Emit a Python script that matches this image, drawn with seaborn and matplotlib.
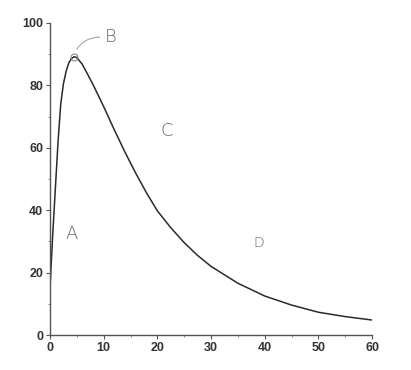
import matplotlib
matplotlib.use("Agg")
import matplotlib.pyplot as plt
import seaborn as sns
import pandas as pd
from matplotlib.ticker import MultipleLocator

# data
time = [0, 0.5, 1, 1.5, 2, 2.5, 3, 3.5, 4, 4.5, 5, 6, 7, 8, 9, 10, 12, 14, 16, 18,
        20, 22.5, 25, 27.5, 30, 35, 40, 45, 50, 55, 60]
value = [15, 32, 47, 62, 74, 80.5, 84.5, 87.2, 88.6, 89.2, 88.9, 86.8, 83.6, 80.3, 76.8,
         73.2, 65.7, 58.5, 51.8, 45.5, 39.8, 34.4, 29.6, 25.5, 22, 16.6, 12.5, 9.6, 7.3, 5.9, 4.8]
x_ticks = [0, 10, 20, 30, 40, 50, 60]
y_ticks = [0, 20, 40, 60, 80, 100]
labels = ["A", "B", "C", "D"]
label_x = [4.1, 11.3, 21.8, 38.9]
label_y = [32.5, 95.5, 65.5, 29.5]
peak_x, peak_y = 4.5, 89.2

sns.set_theme(style="white")
plt.rcParams['font.family'] = ['Liberation Sans', 'DejaVu Sans']

df = pd.DataFrame({"t": time, "v": value})
fig = plt.figure(figsize=(4.11, 3.70), dpi=100)
ax = fig.add_axes([50/411, 1-335/370, (372-50)/411, (335-23)/370])
sns.lineplot(data=df, x="t", y="v", ax=ax, color="#2a2a2a", linewidth=1.1)

ax.set_xlim(0, 60)
ax.set_ylim(0, 100)
ax.set_xticks(x_ticks)
ax.set_yticks(y_ticks)
ax.xaxis.set_minor_locator(MultipleLocator(5))
ax.yaxis.set_minor_locator(MultipleLocator(10))
ax.tick_params(axis="both", which="major", direction="out", length=3, width=0.8,
               color="#555555", labelsize=9, labelcolor="#333333", pad=2,
               bottom=True, left=True)
ax.tick_params(axis="both", which="minor", direction="out", length=1.5, width=0.6,
               color="#777777", bottom=True, left=True)
for lab in ax.get_xticklabels() + ax.get_yticklabels():
    lab.set_fontweight("bold")
ax.set_xlabel("")
ax.set_ylabel("")
for s in ["top", "right"]:
    ax.spines[s].set_visible(False)
for s in ["left", "bottom"]:
    ax.spines[s].set_color("#555555")
    ax.spines[s].set_linewidth(1.0)
    ax.spines[s].set_linestyle((0, (6, 1)))

# peak marker and leader to B
ax.plot([peak_x], [peak_y], marker="o", markersize=5, markerfacecolor="none",
        markeredgecolor="#888888", markeredgewidth=0.8)
ax.annotate("", xy=(peak_x + 0.3, peak_y + 1.5), xytext=(label_x[1] - 1.5, label_y[1]),
            arrowprops=dict(arrowstyle="-", color="#999999", lw=0.7,
                            connectionstyle="angle3,angleA=0,angleB=70"))
for lab, lx, ly in zip(labels, label_x, label_y):
    ax.text(lx, ly, lab, fontsize=13 if lab != "D" else 10, color="#666666",
            ha="center", va="center", family=["DejaVu Sans"], fontweight="light")

fig.savefig("out.png", dpi=100, facecolor="white")
